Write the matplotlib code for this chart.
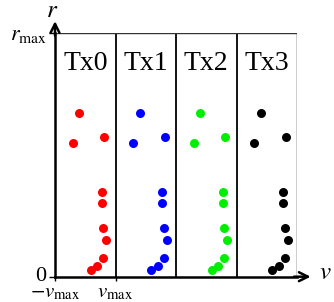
import matplotlib.pyplot as plt
from matplotlib.transforms import ScaledTranslation

plt.rcParams['font.family'] = 'Liberation Serif'
plt.rcParams['mathtext.fontset'] = 'stix'

# transmitters and their colours
names = ['Tx0', 'Tx1', 'Tx2', 'Tx3']
colors = ['#ff0000', '#0000ff', '#00ee00', '#000000']

# velocity (in units of v_max, relative to panel centre) and range (r / r_max)
v = [-0.20, -0.42, 0.63, 0.54, 0.54, 0.60, 0.69, 0.60, 0.39, 0.18]
r = [0.674, 0.551, 0.575, 0.349, 0.302, 0.201, 0.151, 0.078, 0.044, 0.028]

fig = plt.figure(figsize=(3.34, 3.02), dpi=100)
ax = fig.add_axes([0.1647, 0.0838, 0.7246, 0.806])
ax.set_xlim(-1, 7)
ax.set_ylim(0, 1)

for i, (name, c) in enumerate(zip(names, colors)):
    x = [2 * i + vi for vi in v]
    ax.scatter(x, r, s=42, color=c, zorder=3, linewidths=0)
    ax.text(2 * i, 0.874, name, fontsize=20, ha='center', va='center')
    ax.axvline(2 * i + 1, color='black', lw=1.3 if i < 3 else 1.0)

ax.axhline(1, color='#333333', lw=1.0)

for s in ['top', 'right']:
    ax.spines[s].set_visible(False)
ax.spines['left'].set_linewidth(1.8)
ax.spines['bottom'].set_linewidth(1.8)

ax.annotate('', xy=(-1, 1.05), xytext=(-1, 0.99), annotation_clip=False,
            arrowprops=dict(arrowstyle='->', lw=1.8, mutation_scale=16, shrinkA=0, shrinkB=0))
ax.annotate('', xy=(7.45, 0), xytext=(6.9, 0), annotation_clip=False,
            arrowprops=dict(arrowstyle='->', lw=1.8, mutation_scale=16, shrinkA=0, shrinkB=0))
ax.text(-1.1, 1.09, r'$r$', fontsize=18, ha='center', va='center')
ax.text(7.93, 0.015, r'$v$', fontsize=18, ha='center', va='center')

ax.set_yticks([0, 1])
ax.set_yticklabels(['0', r'$r_{\rm max}$'], fontsize=16)
ax.set_xticks([-1, 1])
ax.set_xticklabels([r'$-v_{\rm max}$', r'$v_{\rm max}$'], fontsize=15)
ax.tick_params(axis='y', direction='out', length=4, width=1, pad=2)
ax.tick_params(axis='x', direction='out', length=3, width=1, pad=1.5)

# nudge the "0" label up a little so it clears -v_max
zero = ax.get_yticklabels()[0]
zero.set_transform(zero.get_transform() + ScaledTranslation(0, 2 / 72, fig.dpi_scale_trans))

fig.savefig('out.png', dpi=100)
